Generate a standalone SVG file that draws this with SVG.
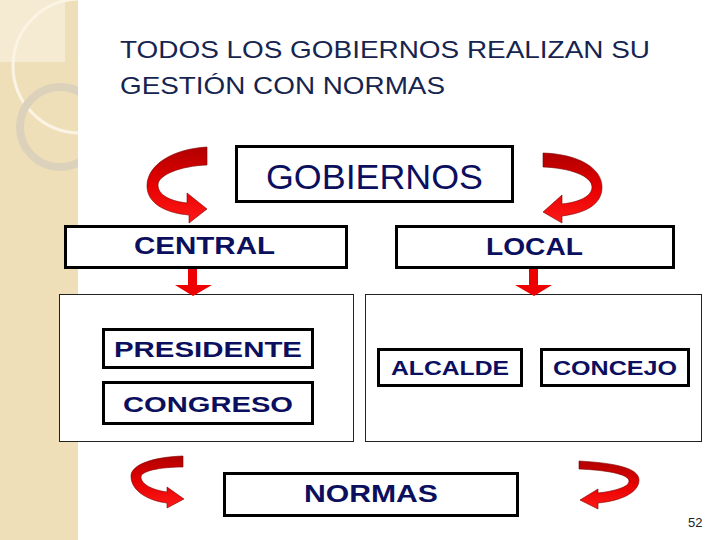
<svg xmlns="http://www.w3.org/2000/svg" width="720" height="540" viewBox="0 0 720 540">
<defs>
<style>
.title{font-family:"Liberation Sans",Arial,sans-serif;font-size:24px;fill:#16254f}
.box{fill:#fff;stroke:#000;stroke-width:3}
.panel{fill:#fff;stroke:#222;stroke-width:1}
.lbl{font-family:"Liberation Sans",Arial,sans-serif;font-weight:bold;fill:#0b0f5e}
.arrow{fill:url(#red);stroke:#7a0000;stroke-width:0.6}
.down{fill:#ee0000}
</style>
<linearGradient id="red" x1="0" y1="0" x2="0" y2="1">
<stop offset="0" stop-color="#b00000"/>
<stop offset="0.5" stop-color="#e60000"/>
<stop offset="1" stop-color="#ff1a1a"/>
</linearGradient>
<clipPath id="side"><rect x="0" y="0" width="78" height="540"/></clipPath>
</defs>
<rect width="720" height="540" fill="#fff"/>
<g id="sidebar">
<rect x="0" y="0" width="78" height="540" fill="#efdfb9"/>
<g clip-path="url(#side)">
<rect x="0" y="0" width="65" height="62" fill="#f5ead2"/>
<circle cx="80" cy="66" r="67" fill="none" stroke="#fbf4e4" stroke-width="3"/>
<circle cx="60" cy="127" r="40" fill="none" stroke="#dcd2bc" stroke-width="8"/>
</g>
</g>
<g id="title">
<text class="title" x="120" y="58" textLength="530" lengthAdjust="spacingAndGlyphs">TODOS LOS GOBIERNOS REALIZAN SU</text>
<text class="title" x="120" y="94" textLength="325" lengthAdjust="spacingAndGlyphs">GESTIÓN CON NORMAS</text>
</g>
<g id="panels">
<rect class="panel" x="59.5" y="294.5" width="294" height="147"/>
<rect class="panel" x="365.5" y="294.5" width="336" height="147"/>
</g>
<g id="connectors">
<path class="arrow" d="M207,147 C172,149 147,165 147,186 C147,203 165,213 189,215 L189,223 L207,209 L187,193 L187,203 C170,201 158,195 158,185 C158,175 180,166 207,165 Z"/>
<path class="arrow" d="M543,153 C578,154 602,168 602,187 C602,205 585,213 562,216 L562,223 L543,212 L562,195 L562,204 C580,202 592,196 592,187 C592,176 570,168 543,167 Z"/>
<path class="arrow" d="M183,456 C152,457 131,465 131,476 C131,492 150,501 167,503 L167,508 L184,499 L167,487 L167,492 C152,490 141,484 141,477 C141,471 160,467 183,467 Z"/>
<path class="arrow" d="M579,461 C615,463 639,468 639,480 C639,493 620,501 598,503 L598,509 L580,500 L598,489 L598,493 C615,491 629,487 629,481 C629,474 605,470 579,469 Z"/>
<path class="down" d="M188,269 L197,269 L197,285 L212,285 L193,296 L175,285 L188,285 Z"/>
<path class="down" d="M529,269 L538,269 L538,285 L552,285 L534,296 L515,285 L529,285 Z"/>
</g>
<g id="gobiernos">
<rect class="box" x="236.5" y="146.5" width="276" height="55"/>
<text x="266" y="189" font-family="'Liberation Sans',Arial,sans-serif" font-size="35" fill="#0b0f5e" textLength="217" lengthAdjust="spacingAndGlyphs">GOBIERNOS</text>
</g>
<g id="central">
<rect class="box" x="65.5" y="226.5" width="281" height="41"/>
<text class="lbl" x="134" y="254" font-size="23" textLength="141" lengthAdjust="spacingAndGlyphs">CENTRAL</text>
</g>
<g id="local">
<rect class="box" x="396.5" y="226.5" width="277" height="41"/>
<text class="lbl" x="486" y="255" font-size="23" textLength="97" lengthAdjust="spacingAndGlyphs">LOCAL</text>
</g>
<g id="presidente">
<rect class="box" x="103.5" y="329.5" width="209" height="38"/>
<text class="lbl" x="114" y="357" font-size="22" textLength="188" lengthAdjust="spacingAndGlyphs">PRESIDENTE</text>
</g>
<g id="congreso">
<rect class="box" x="103.5" y="382.5" width="209" height="41"/>
<text class="lbl" x="123" y="412" font-size="22" textLength="170" lengthAdjust="spacingAndGlyphs">CONGRESO</text>
</g>
<g id="alcalde">
<rect class="box" x="378.5" y="349.5" width="143" height="36"/>
<text class="lbl" x="391" y="375" font-size="20" textLength="118" lengthAdjust="spacingAndGlyphs">ALCALDE</text>
</g>
<g id="concejo">
<rect class="box" x="541.5" y="349.5" width="147" height="36"/>
<text class="lbl" x="553" y="375" font-size="20" textLength="124" lengthAdjust="spacingAndGlyphs">CONCEJO</text>
</g>
<g id="normas">
<rect class="box" x="224.5" y="473.5" width="293" height="42"/>
<text class="lbl" x="304" y="502" font-size="23" textLength="134" lengthAdjust="spacingAndGlyphs">NORMAS</text>
</g>
<text x="688" y="527" font-family="'Liberation Sans',Arial,sans-serif" font-size="13" fill="#222">52</text>
</svg>
